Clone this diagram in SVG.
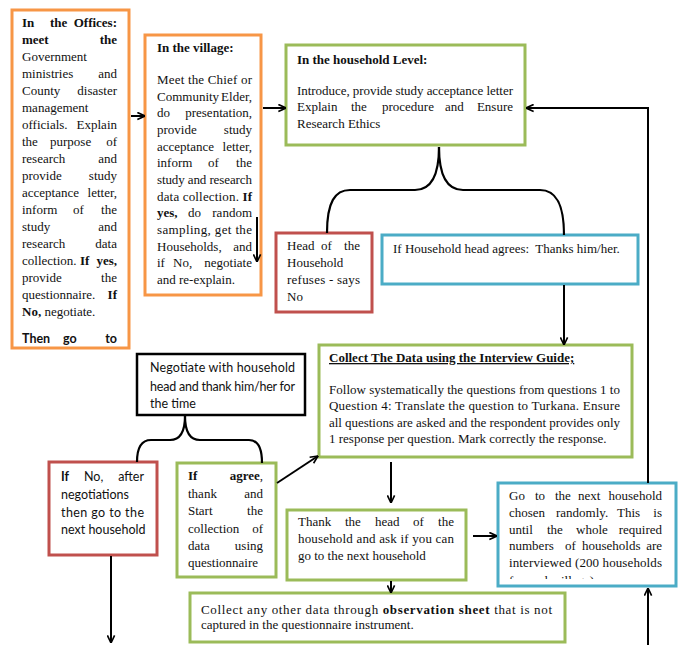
<svg xmlns="http://www.w3.org/2000/svg" width="681" height="645" viewBox="0 0 681 645">
<defs>
<style>
.s{font-family:"Liberation Serif","Times New Roman",serif;font-size:13px;fill:#111}
.c{font-family:Lato,"Liberation Sans",sans-serif;font-size:12.5px;fill:#111}
.b{font-weight:bold}
.e{text-anchor:end}
.or{fill:#fff;stroke:#F79646;stroke-width:3}
.gr{fill:#fff;stroke:#9BBB59;stroke-width:3}
.rd{fill:#fff;stroke:#C0504D;stroke-width:3}
.bl{fill:#fff;stroke:#4BACC6;stroke-width:3}
.bk{fill:#fff;stroke:#000;stroke-width:2.5}
.ln{fill:none;stroke:#000;stroke-width:2}
.br{fill:none;stroke:#000;stroke-width:2.2}
</style>
<marker id="arr" viewBox="0 0 10 10" refX="9.5" refY="5" markerWidth="9" markerHeight="9" markerUnits="userSpaceOnUse" orient="auto">
<path d="M1,1 L9.5,5 L1,9" fill="none" stroke="#000" stroke-width="1.8"/>
</marker>
<clipPath id="clipGo"><rect x="499" y="484" width="176" height="95"/></clipPath>
</defs>
<rect width="681" height="645" fill="#fff"/>

<g id="offices">
<rect class="or" x="12" y="10" width="117" height="338"/>
<text class="s b" x="22" y="27">In</text><text class="s b" x="50" y="27">the</text><text class="s b e" x="117" y="27">Offices:</text>
<text class="s b" x="22" y="44">meet</text><text class="s b e" x="117" y="44">the</text>
<text class="s" x="22" y="61">Government</text>
<text class="s" x="22" y="78">ministries</text><text class="s e" x="117" y="78">and</text>
<text class="s" x="22" y="95">County</text><text class="s e" x="117" y="95">disaster</text>
<text class="s" x="22" y="112">management</text>
<text class="s" x="22" y="129">officials.</text><text class="s e" x="117" y="129">Explain</text>
<text class="s" x="22" y="146">the</text><text class="s" x="50" y="146">purpose</text><text class="s e" x="117" y="146">of</text>
<text class="s" x="22" y="163">research</text><text class="s e" x="117" y="163">and</text>
<text class="s" x="22" y="180">provide</text><text class="s e" x="117" y="180">study</text>
<text class="s" x="22" y="197">acceptance</text><text class="s e" x="117" y="197">letter,</text>
<text class="s" x="22" y="214">inform</text><text class="s" x="73" y="214">of</text><text class="s e" x="117" y="214">the</text>
<text class="s" x="22" y="231">study</text><text class="s e" x="117" y="231">and</text>
<text class="s" x="22" y="248">research</text><text class="s e" x="117" y="248">data</text>
<text class="s" x="22" y="265">collection.</text><text class="s b" x="80" y="265">If</text><text class="s b e" x="117" y="265">yes,</text>
<text class="s" x="22" y="282">provide</text><text class="s e" x="117" y="282">the</text>
<text class="s" x="22" y="299">questionnaire.</text><text class="s b e" x="117" y="299">If</text>
<text class="s" x="22" y="316"><tspan class="b">No,</tspan> negotiate.</text>
<text class="c b" x="22" y="343">Then</text><text class="c b" x="63" y="343">go</text><text class="c b e" x="117" y="343">to</text>
</g>

<g id="village">
<rect class="or" x="145" y="35" width="116" height="260"/>
<text class="s b" x="157" y="52">In the village:</text>
<text class="s" x="157" y="84" textLength="95" lengthAdjust="spacing">Meet the Chief or</text>
<text class="s" x="157" y="100.7">Community</text><text class="s e" x="252" y="100.7">Elder,</text>
<text class="s" x="157" y="117.3">do</text><text class="s e" x="252" y="117.3">presentation,</text>
<text class="s" x="157" y="134">provide</text><text class="s e" x="252" y="134">study</text>
<text class="s" x="157" y="150.7">acceptance</text><text class="s e" x="252" y="150.7">letter,</text>
<text class="s" x="157" y="167.3">inform</text><text class="s" x="208" y="167.3">of</text><text class="s e" x="252" y="167.3">the</text>
<text class="s" x="157" y="184" textLength="95" lengthAdjust="spacing">study and research</text>
<text class="s" x="157" y="200.7" textLength="95" lengthAdjust="spacing">data collection. <tspan class="b">If</tspan></text>
<text class="s b" x="157" y="217.3">yes,</text><text class="s" x="188" y="217.3">do</text><text class="s e" x="252" y="217.3">random</text>
<text class="s" x="157" y="234" textLength="95" lengthAdjust="spacing">sampling, get the</text>
<text class="s" x="157" y="250.7">Households,</text><text class="s e" x="252" y="250.7">and</text>
<text class="s" x="157" y="267.3">if</text><text class="s" x="173" y="267.3">No,</text><text class="s e" x="252" y="267.3">negotiate</text>
<text class="s" x="157" y="284">and re-explain.</text>
</g>

<g id="household">
<rect class="gr" x="286" y="45" width="239" height="100"/>
<text class="s b" x="297" y="63.5">In the household Level:</text>
<text class="s" x="297" y="94.5" textLength="216" lengthAdjust="spacing">Introduce, provide study acceptance letter</text>
<text class="s" x="297" y="111">Explain</text><text class="s" x="351" y="111">the</text><text class="s" x="382" y="111">procedure</text><text class="s" x="445" y="111">and</text><text class="s e" x="513" y="111">Ensure</text>
<text class="s" x="297" y="127.5">Research Ethics</text>
</g>

<g id="refuses">
<rect class="rd" x="276" y="233" width="96" height="79"/>
<text class="s" x="287" y="250">Head</text><text class="s" x="321" y="250">of</text><text class="s e" x="360" y="250">the</text>
<text class="s" x="287" y="267">Household</text>
<text class="s" x="287" y="284" textLength="73" lengthAdjust="spacing">refuses - says</text>
<text class="s" x="287" y="300.5">No</text>
</g>

<g id="agrees">
<rect class="bl" x="382" y="235" width="256" height="49"/>
<text class="s" x="393" y="252.5">If Household head agrees:&#160; Thanks him/her.</text>
</g>

<g id="collect">
<rect class="gr" x="319" y="345" width="313" height="112"/>
<text class="s b" x="329" y="362" style="text-decoration:underline">Collect The Data using the Interview Guide;</text>
<text class="s" x="329" y="393.5" textLength="291" lengthAdjust="spacing">Follow systematically the questions from questions 1 to</text>
<text class="s" x="329" y="410" textLength="291" lengthAdjust="spacing">Question 4: Translate the question to Turkana. Ensure</text>
<text class="s" x="329" y="426.5" textLength="291" lengthAdjust="spacing">all questions are asked and the respondent provides only</text>
<text class="s" x="329" y="443">1 response per question. Mark correctly the response.</text>
</g>

<g id="negotiate">
<rect class="bk" x="137" y="354" width="168" height="61"/>
<text class="c" x="150" y="372" textLength="145" lengthAdjust="spacing">Negotiate with household</text>
<text class="c" x="150" y="390.5" textLength="145" lengthAdjust="spacing">head and thank him/her for</text>
<text class="c" x="150" y="407.5">the time</text>
</g>

<g id="ifno">
<rect class="rd" x="49" y="462" width="108" height="93"/>
<text class="c b" x="61" y="480.5">If</text><text class="c" x="84" y="480.5">No,</text><text class="c e" x="144" y="480.5">after</text>
<text class="c" x="61" y="498.5">negotiations</text>
<text class="c" x="61" y="516.5" textLength="83" lengthAdjust="spacing">then go to the</text>
<text class="c" x="61" y="534">next household</text>
</g>

<g id="ifagree">
<rect class="gr" x="177" y="463" width="99" height="114"/>
<text class="s b" x="188" y="480">If</text><text class="s e" x="263" y="480"><tspan class="b">agree</tspan>,</text>
<text class="s" x="188" y="497.5">thank</text><text class="s e" x="263" y="497.5">and</text>
<text class="s" x="188" y="515">Start</text><text class="s e" x="263" y="515">the</text>
<text class="s" x="188" y="532.5">collection</text><text class="s e" x="263" y="532.5">of</text>
<text class="s" x="188" y="550">data</text><text class="s e" x="263" y="550">using</text>
<text class="s" x="188" y="567">questionnaire</text>
</g>

<g id="thank">
<rect class="gr" x="287" y="510" width="179" height="70"/>
<text class="s" x="298" y="526">Thank</text><text class="s" x="345" y="526">the</text><text class="s" x="375" y="526">head</text><text class="s" x="413" y="526">of</text><text class="s e" x="454" y="526">the</text>
<text class="s" x="298" y="543" textLength="156" lengthAdjust="spacing">household and ask if you can</text>
<text class="s" x="298" y="559.5">go to the next household</text>
</g>

<g id="nexthh">
<rect class="bl" x="498" y="483" width="178" height="103"/>
<text class="s" x="509" y="500">Go</text><text class="s" x="535" y="500">to</text><text class="s" x="555" y="500">the</text><text class="s" x="578" y="500">next</text><text class="s e" x="662" y="500">household</text>
<text class="s" x="509" y="517">chosen</text><text class="s" x="556" y="517">randomly.</text><text class="s" x="617" y="517">This</text><text class="s e" x="662" y="517">is</text>
<text class="s" x="509" y="533.5">until</text><text class="s" x="547" y="533.5">the</text><text class="s" x="576" y="533.5">whole</text><text class="s e" x="662" y="533.5">required</text>
<text class="s" x="509" y="550">numbers</text><text class="s" x="565" y="550">of</text><text class="s" x="582" y="550">households</text><text class="s e" x="662" y="550">are</text>
<text class="s" x="509" y="567" textLength="153" lengthAdjust="spacing">interviewed (200 households</text>
<text class="s" x="509" y="585" clip-path="url(#clipGo)">for each village)</text>
</g>

<g id="observation">
<rect class="gr" x="190" y="593" width="375" height="49"/>
<text class="s" x="201" y="613.5" textLength="351" lengthAdjust="spacing">Collect any other data through <tspan class="b">observation sheet</tspan> that is not</text>
<text class="s" x="201" y="628.5">captured in the questionnaire instrument.</text>
</g>

<g id="connectors">
<path class="ln" d="M131,116 H145" marker-end="url(#arr)"/>
<path class="ln" d="M263,108 H286" marker-end="url(#arr)"/>
<path class="ln" d="M257,217 V262" marker-end="url(#arr)"/>
<path class="br" d="M439,147 C439,175 432,190 415,190 L350,190 C335,190 327,202 327,233"/>
<path class="br" d="M439,147 C439,175 446,190 463,190 L540,190 C555,190 564,202 564,235"/>
<path class="ln" d="M564,285 V345" marker-end="url(#arr)"/>
<path class="br" d="M185,416 C185,432 180,440 170,440 L151,440 C142,440 137,447 137,462"/>
<path class="br" d="M185,416 C185,432 190,440 200,440 L249,440 C257,440 262,447 262,463"/>
<path class="ln" d="M277,483 L318,456" marker-end="url(#arr)"/>
<path class="ln" d="M391,462 V503" marker-end="url(#arr)"/>
<path class="ln" d="M473,536 H497" marker-end="url(#arr)"/>
<path class="ln" d="M391,581 V593" marker-end="url(#arr)"/>
<path class="ln" d="M111,556 V643" marker-end="url(#arr)"/>
<path class="ln" d="M648,483 V108 H526" marker-end="url(#arr)"/>
<path class="ln" d="M648,645 V588" marker-end="url(#arr)"/>
</g>
</svg>
